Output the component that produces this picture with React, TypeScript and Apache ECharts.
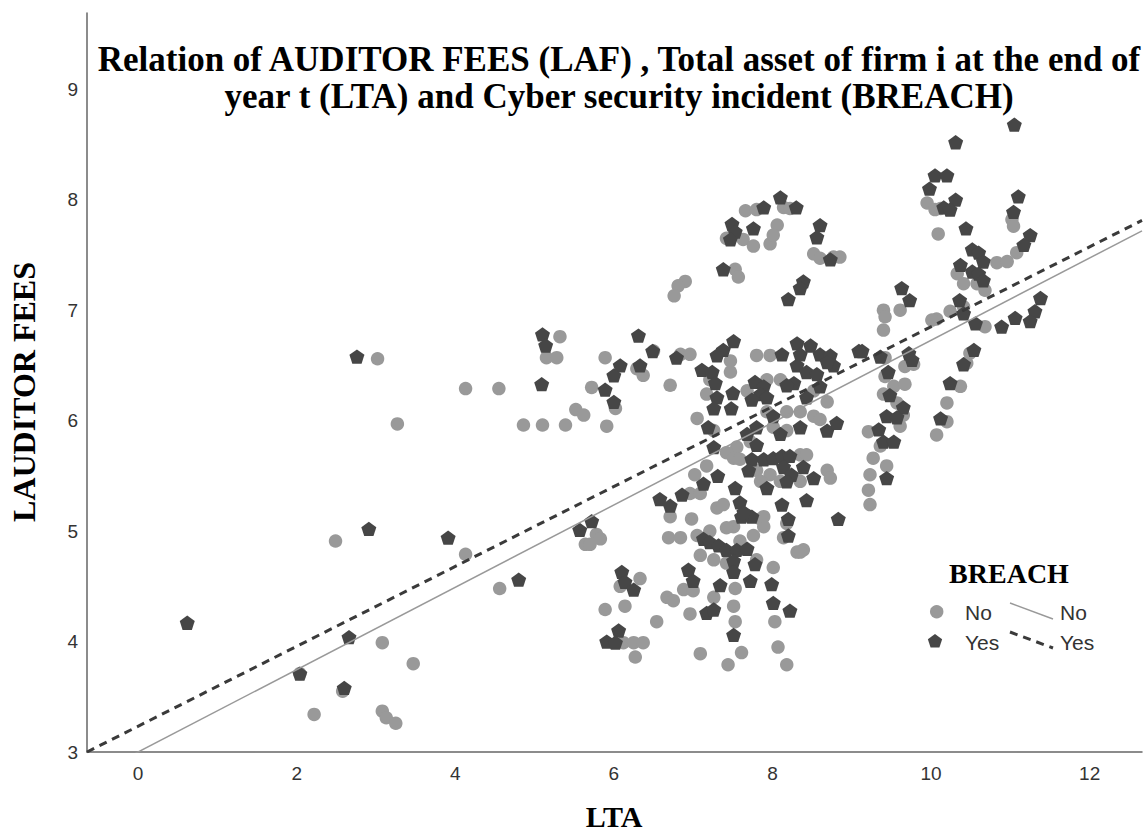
import React, { useEffect, useRef } from "react";
import * as echarts from "echarts";

// ---- axis ranges / ticks ----
const X_MIN = -0.644;
const X_MAX = 12.66;
const Y_MIN = 3;
const Y_MAX = 9.69;
const X_TICK_STEP = 2;
const Y_TICK_STEP = 1;

// ---- fit lines: [intercept, slope] ----
const fitNo = [3.0, 0.3727];
const fitYes = [3.233, 0.3617];

// ---- BREACH = No (LTA, LAUDITOR FEES) ----
const noLow = [
  [3.02, 6.56], [4.13, 6.29], [4.55, 6.29], [3.27, 5.97], [2.49, 4.91], [4.13, 4.79], [4.56, 4.48],
  [3.08, 3.99], [3.47, 3.8], [2.04, 3.71], [2.58, 3.55], [2.22, 3.34], [3.08, 3.37], [3.13, 3.31], [3.25, 3.26],
  [5.32, 6.76], [5.15, 6.57], [5.28, 6.57], [4.86, 5.96], [5.1, 5.96], [5.39, 5.96], [5.52, 6.1], [5.62, 6.05],
  [5.72, 6.3], [5.78, 4.97], [5.64, 4.88], [5.7, 4.88],
];
const noUpper = [
  [7.66, 7.9], [7.8, 7.91], [8.14, 7.93], [8.22, 7.92], [7.42, 7.65], [7.63, 7.64], [7.76, 7.58], [7.97, 7.6],
  [8.06, 7.77], [8.01, 7.68], [8.52, 7.51], [8.6, 7.47], [8.77, 7.48], [8.85, 7.48], [7.53, 7.37], [7.57, 7.3],
  [6.9, 7.26], [6.81, 7.22], [6.76, 7.13],
];
const noMiddle = [
  [5.89, 6.57], [6.29, 6.47], [6.37, 6.41], [6.02, 6.11], [5.91, 5.95], [6.71, 6.32], [6.5, 6.63], [6.84, 6.6],
  [6.96, 6.6], [7.47, 6.54], [7.47, 6.44], [7.21, 6.37], [7.17, 6.24], [7.05, 6.02], [7.26, 5.91], [7.8, 6.59],
  [7.97, 6.59], [7.68, 6.27], [7.93, 6.37], [8.1, 6.37], [8.52, 6.27], [8.69, 6.17], [8.52, 6.04], [8.35, 6.08],
  [8.18, 6.08], [8.6, 6.01], [8.01, 5.94], [8.18, 5.91], [7.93, 6.08], [7.72, 5.81], [7.55, 5.76], [7.42, 5.71],
  [7.51, 5.66],
];
const noLower = [
  [7.59, 5.65], [7.8, 5.55], [7.97, 5.51], [8.35, 5.69], [8.43, 5.69], [8.69, 5.55], [8.73, 5.48], [8.35, 5.45],
  [8.1, 5.45], [7.85, 5.45], [7.17, 5.59], [7.02, 5.51], [6.96, 5.34], [7.09, 5.34], [7.3, 5.21], [7.38, 5.24],
  [7.51, 5.04], [7.68, 5.14], [7.85, 5.11], [7.89, 5.04], [8.14, 4.94], [8.31, 4.81], [8.18, 5.07], [8.39, 4.83],
  [6.71, 5.13], [6.98, 5.11], [6.69, 4.94], [6.84, 4.94], [7.05, 4.96], [7.21, 5.0], [7.42, 5.03], [7.59, 4.91],
  [7.76, 4.96], [7.89, 5.13], [7.09, 4.78], [7.26, 4.74], [7.42, 4.71], [7.8, 4.74], [8.01, 4.67], [6.88, 4.47],
  [7.0, 4.46], [6.67, 4.4], [6.75, 4.37], [6.96, 4.25], [7.26, 4.4], [7.53, 4.48], [7.51, 4.32], [7.53, 4.18],
  [7.09, 3.89], [7.44, 3.79], [7.61, 3.9], [8.03, 4.18], [8.07, 3.95], [8.18, 3.79], [8.35, 4.81], [6.54, 4.18],
  [5.89, 4.29], [6.14, 4.32], [6.33, 4.57], [6.08, 4.5], [6.12, 3.99], [6.25, 3.99], [6.37, 3.99], [6.27, 3.86],
  [5.83, 4.93],
];
const noRight = [
  [9.95, 7.97], [10.05, 7.91], [10.12, 7.92], [10.09, 7.69], [11.02, 7.82], [11.04, 7.76], [10.83, 7.43],
  [10.96, 7.44], [11.08, 7.52], [10.33, 7.33], [10.41, 7.24], [10.68, 7.18], [10.58, 7.24], [10.24, 6.99],
  [10.07, 6.92], [10.68, 6.85], [10.41, 7.03], [10.01, 6.91], [9.4, 7.0], [9.4, 6.82], [9.61, 7.0], [9.42, 6.94],
  [9.42, 6.57], [9.42, 6.4], [9.67, 6.49], [9.78, 6.51], [9.53, 6.31], [9.4, 6.24], [9.67, 6.33], [9.57, 6.16],
  [9.65, 6.05], [9.61, 5.95], [9.21, 5.9], [9.36, 5.77], [9.27, 5.66], [9.44, 5.59], [9.23, 5.51], [9.21, 5.37],
  [9.23, 5.24], [10.2, 6.16], [10.07, 5.87], [10.2, 5.99], [10.37, 6.31], [10.49, 6.61], [10.45, 6.52],
];

// ---- BREACH = Yes (LTA, LAUDITOR FEES) ----
const yesLow = [
  [2.76, 6.58], [2.91, 5.02], [3.91, 4.94], [0.62, 4.17], [2.66, 4.04], [2.04, 3.71], [2.6, 3.58],
  [5.1, 6.78], [5.14, 6.68], [5.09, 6.33], [5.57, 5.01], [5.72, 5.09], [4.8, 4.56],
];
const yesUpper = [
  [8.1, 8.02], [7.89, 7.93], [8.3, 7.93], [7.49, 7.78], [7.53, 7.71], [7.47, 7.64], [7.76, 7.74], [8.6, 7.77],
  [8.56, 7.66], [8.73, 7.46], [7.38, 7.37], [8.39, 7.26], [8.35, 7.2], [8.2, 7.1],
];
const yesMiddle = [
  [6.31, 6.77], [6.08, 6.5], [6.0, 6.41], [5.89, 6.28], [6.0, 6.17], [6.33, 6.5], [6.49, 6.63], [6.79, 6.57],
  [7.51, 6.72], [7.38, 6.64], [7.3, 6.59], [7.11, 6.46], [7.24, 6.44], [7.28, 6.34], [7.3, 6.21], [7.26, 6.11],
  [7.19, 5.94], [7.26, 5.76], [7.5, 6.25], [7.48, 6.11], [7.78, 6.35], [7.89, 6.31], [7.85, 6.24], [7.74, 6.19],
  [7.93, 6.21], [8.12, 6.6], [8.31, 6.7], [8.48, 6.68], [8.31, 6.5], [8.43, 6.44], [8.56, 6.42], [8.27, 6.34],
  [8.18, 6.32], [8.6, 6.6], [8.73, 6.59], [8.77, 6.5], [8.69, 6.53], [8.35, 6.6], [8.6, 6.31], [8.43, 6.21],
  [8.35, 5.94], [8.69, 5.91], [8.81, 5.98], [9.09, 6.63], [8.01, 6.04], [8.1, 5.88], [7.8, 5.94], [7.68, 5.88],
  [7.8, 5.78],
];
const yesLower = [
  [7.74, 5.65], [7.89, 5.65], [8.01, 5.66], [8.12, 5.68], [8.22, 5.68], [8.14, 5.58], [8.24, 5.51], [8.18, 5.45],
  [8.39, 5.58], [8.52, 5.48], [7.7, 5.55], [7.31, 5.5], [7.13, 5.43], [7.53, 5.39], [7.93, 5.39], [8.43, 5.28],
  [8.12, 5.24], [8.2, 5.11], [8.2, 4.96], [8.83, 5.11], [6.86, 5.33], [6.58, 5.29], [6.71, 5.23], [7.59, 5.26],
  [7.61, 5.13], [7.74, 5.13], [7.64, 5.17], [7.13, 4.93], [7.21, 4.9], [7.32, 4.87], [7.42, 4.83], [7.55, 4.83],
  [7.68, 4.84], [7.51, 4.73], [7.78, 4.7], [7.51, 4.63], [7.34, 4.51], [6.94, 4.65], [7.0, 4.55], [7.17, 4.26],
  [7.26, 4.29], [7.51, 4.06], [7.72, 4.55], [7.99, 4.52], [8.01, 4.35], [8.22, 4.28], [6.1, 4.63], [6.14, 4.54],
  [6.25, 4.47], [6.06, 4.1], [5.91, 4.0], [6.02, 3.99],
];
const yesRight = [
  [11.05, 8.68], [10.31, 8.52], [10.05, 8.22], [10.2, 8.22], [9.98, 8.1], [10.31, 8.0], [10.16, 7.93],
  [10.24, 7.91], [11.1, 8.03], [11.04, 7.89], [10.44, 7.74], [11.25, 7.68], [11.17, 7.59], [10.52, 7.55],
  [10.6, 7.52], [10.66, 7.44], [10.37, 7.41], [10.52, 7.35], [10.6, 7.33], [10.66, 7.27], [10.36, 7.09],
  [10.41, 6.97], [11.38, 7.11], [11.31, 6.99], [11.25, 6.9], [11.06, 6.93], [10.89, 6.85], [10.56, 6.88],
  [9.63, 7.2], [9.73, 7.09], [9.13, 6.63], [9.36, 6.58], [9.72, 6.61], [9.76, 6.55], [9.46, 6.44], [9.48, 6.23],
  [9.65, 6.12], [9.44, 6.04], [9.57, 6.03], [9.34, 5.92], [9.4, 5.81], [9.53, 5.81], [9.44, 5.48], [10.12, 6.02],
  [10.24, 6.34], [10.41, 6.51], [10.54, 6.64],
];

const categories = ["No", "Yes"];
const titleLines = [
  "Relation of AUDITOR FEES (LAF) , Total asset of firm i at the end of",
  "year t (LTA) and Cyber security incident (BREACH)",
];

const SERIF = '"Liberation Serif", "Times New Roman", serif';
const SANS = '"Liberation Sans", Arial, sans-serif';
const GRAY = "#999999";
const DARK = "#464646";
const PENTAGON = "path://M50,0L97.55,34.55L79.39,90.45L20.61,90.45L2.45,34.55Z";

function pentagonPoints(cx: number, cy: number, r: number) {
  const pts: number[][] = [];
  for (let i = 0; i < 5; i++) {
    const a = -Math.PI / 2 + (i * 2 * Math.PI) / 5;
    pts.push([cx + r * Math.cos(a), cy + r * Math.sin(a)]);
  }
  return pts;
}

function fitLine(fit: number[]) {
  return [
    [X_MIN, fit[0] + fit[1] * X_MIN],
    [X_MAX, fit[0] + fit[1] * X_MAX],
  ];
}

function txt(text: string, x: number, y: number, size: number, opts: any = {}) {
  return {
    type: "text",
    x,
    y,
    rotation: opts.rotation || 0,
    z: 100,
    style: {
      text,
      fontSize: size,
      fontWeight: opts.bold ? "bold" : "normal",
      fontFamily: opts.family || SANS,
      fill: opts.fill || "#222",
      align: opts.align || "left",
      textAlign: opts.align || "left",
      verticalAlign: "middle",
      textVerticalAlign: "middle",
    },
  };
}

export default function App() {
  const ref = useRef<HTMLDivElement>(null);

  useEffect(() => {
    if (!ref.current) return;
    const chart = echarts.init(ref.current, null, { renderer: "svg" });
    const noData = [...noLow, ...noUpper, ...noMiddle, ...noLower, ...noRight];
    const yesData = [...yesLow, ...yesUpper, ...yesMiddle, ...yesLower, ...yesRight];

    const intLabel = (v: number) => (Math.abs(v - Math.round(v)) < 1e-9 ? String(Math.round(v)) : "");

    chart.setOption({
      animation: false,
      backgroundColor: "#ffffff",
      grid: { left: 87, right: 5, top: 13, bottom: 86, containLabel: false },
      xAxis: {
        type: "value",
        min: X_MIN,
        max: X_MAX,
        minInterval: X_TICK_STEP,
        maxInterval: X_TICK_STEP,
        splitLine: { show: false },
        axisTick: { show: false },
        axisLine: { show: true, onZero: false, lineStyle: { color: "#666", width: 1.5 } },
        axisLabel: { margin: 12, fontSize: 19, color: "#333", fontFamily: SANS, formatter: intLabel },
      },
      yAxis: {
        type: "value",
        min: Y_MIN,
        max: Y_MAX,
        interval: Y_TICK_STEP,
        splitLine: { show: false },
        axisTick: { show: false },
        axisLine: { show: true, onZero: false, lineStyle: { color: "#666", width: 1.5 } },
        axisLabel: { margin: 9, fontSize: 19, color: "#333", fontFamily: SANS, formatter: intLabel },
      },
      series: [
        {
          name: categories[0],
          type: "scatter",
          data: noData,
          symbol: "circle",
          symbolSize: 13.5,
          itemStyle: { color: GRAY, opacity: 1 },
          z: 2,
        },
        {
          name: categories[1],
          type: "scatter",
          data: yesData,
          symbol: PENTAGON,
          symbolSize: [15, 14.3],
          itemStyle: { color: DARK, opacity: 1 },
          z: 3,
        },
        {
          name: categories[0] + " fit",
          type: "line",
          data: fitLine(fitNo),
          symbol: "none",
          clip: true,
          lineStyle: { color: GRAY, width: 1.5 },
          z: 4,
        },
        {
          name: categories[1] + " fit",
          type: "line",
          data: fitLine(fitYes),
          symbol: "none",
          clip: true,
          lineStyle: { color: "#3a3a3a", width: 3, type: [8, 6] },
          z: 5,
        },
      ],
      graphic: [
        txt(titleLines[0], 619, 59, 35, { bold: true, family: SERIF, align: "center", fill: "#000" }),
        txt(titleLines[1], 619, 96, 35, { bold: true, family: SERIF, align: "center", fill: "#000" }),
        txt("LAUDITOR FEES", 24, 392, 32, { bold: true, family: SERIF, align: "center", fill: "#000", rotation: Math.PI / 2 }),
        txt("LTA", 614, 816, 30, { bold: true, family: SERIF, align: "center", fill: "#000" }),
        txt("BREACH", 1009, 573, 28, { bold: true, family: SERIF, align: "center", fill: "#000" }),
        { type: "circle", shape: { cx: 936.7, cy: 611.7, r: 6.7 }, style: { fill: GRAY }, z: 100 },
        txt(categories[0], 965, 612, 21, { fill: "#333" }),
        { type: "line", shape: { x1: 1010, y1: 603, x2: 1053, y2: 619 }, style: { stroke: GRAY, lineWidth: 1.5 }, z: 100 },
        txt(categories[0], 1060, 612, 21, { fill: "#333" }),
        { type: "polygon", shape: { points: pentagonPoints(935, 641.5, 7.5) }, style: { fill: DARK }, z: 100 },
        txt(categories[1], 965, 642, 21, { fill: "#333" }),
        {
          type: "line",
          shape: { x1: 1010, y1: 632, x2: 1053, y2: 648 },
          style: { stroke: "#3a3a3a", lineWidth: 3, lineDash: [8, 6] },
          z: 100,
        },
        txt(categories[1], 1060, 642, 21, { fill: "#333" }),
      ],
    });

    return () => chart.dispose();
  }, []);

  return (
    <div
      ref={ref}
      style={{ position: "fixed", left: 0, top: 0, width: 1147, height: 838, background: "#fff" }}
    />
  );
}
